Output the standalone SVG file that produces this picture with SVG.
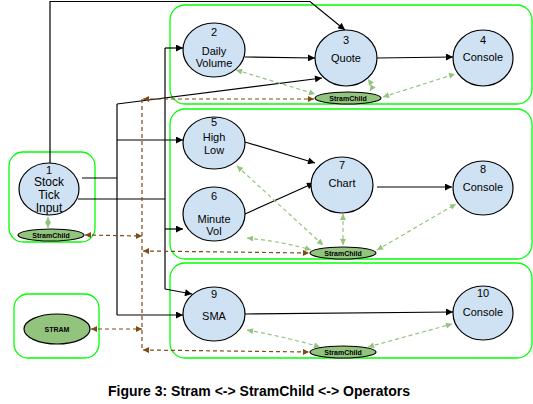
<svg xmlns="http://www.w3.org/2000/svg" width="533" height="404" viewBox="0 0 533 404">
<style>
.box{fill:none;stroke:#00ff00;stroke-width:1.3}
.node{fill:#cfe2f3;stroke:#000;stroke-width:1.2}
.sc{fill:#93c47d;stroke:#000;stroke-width:1.2}
.lbl{font-family:"Liberation Sans",Arial,sans-serif;font-size:11px;fill:#000;text-anchor:middle}
.sct{font-family:"Liberation Sans",Arial,sans-serif;font-size:7px;font-weight:bold;fill:#000;text-anchor:middle}
.e{fill:none;stroke:#000;stroke-width:1.2}
.ea{fill:none;stroke:#000;stroke-width:1.2;marker-end:url(#ah)}
.br{fill:none;stroke:#7f4a17;stroke-width:1.2;stroke-dasharray:4,3;marker-start:url(#bh);marker-end:url(#bh)}
.brl{fill:none;stroke:#7f4a17;stroke-width:1.2;stroke-dasharray:4,3}
.gr{fill:none;stroke:#93c47d;stroke-width:1.2;stroke-dasharray:4,3;marker-start:url(#gh);marker-end:url(#gh)}
</style>
<defs>
<marker id="ah" viewBox="0 0 10 10" refX="10" refY="5" markerWidth="8" markerHeight="7" markerUnits="userSpaceOnUse" orient="auto"><path d="M0,0 L10,5 L0,10 z" fill="#000"/></marker>
<marker id="bh" viewBox="0 0 10 10" refX="10" refY="5" markerWidth="7" markerHeight="6" markerUnits="userSpaceOnUse" orient="auto-start-reverse"><path d="M0,0 L10,5 L0,10 z" fill="#7f4a17"/></marker>
<marker id="gh" viewBox="0 0 10 10" refX="10" refY="5" markerWidth="7" markerHeight="6" markerUnits="userSpaceOnUse" orient="auto-start-reverse"><path d="M0,0 L10,5 L0,10 z" fill="#93c47d"/></marker>
</defs>
<rect width="533" height="404" fill="#fff"/>
<g id="groups">
<rect class="box" x="170" y="5" width="362" height="99" rx="15"/>
<rect class="box" x="170" y="109" width="362" height="150" rx="15"/>
<rect class="box" x="170" y="263" width="362" height="95" rx="15"/>
<rect class="box" x="9" y="152" width="86" height="90" rx="14"/>
<rect class="box" x="14" y="294" width="85" height="64" rx="14"/>
</g>
<g id="connectors">
<polyline class="ea" points="50,163 50,1.5 310,1.5 345,30"/>
<polyline class="e" points="82,178 117,178"/>
<polyline class="e" points="117,104 117,315"/>
<line class="ea" x1="117" y1="104" x2="322" y2="78"/>
<line class="ea" x1="117" y1="140" x2="183" y2="140"/>
<line class="ea" x1="117" y1="315" x2="183" y2="315"/>
<polyline class="e" points="78,199 165,199"/>
<polyline class="e" points="165,48 165,289"/>
<line class="ea" x1="165" y1="48" x2="183" y2="48"/>
<line class="ea" x1="165" y1="229" x2="183" y2="229"/>
<line class="ea" x1="165" y1="289" x2="192" y2="294"/>
<line class="ea" x1="245" y1="57" x2="315" y2="58"/>
<line class="ea" x1="377" y1="58" x2="453" y2="57"/>
<line class="ea" x1="245" y1="142" x2="315" y2="163"/>
<line class="ea" x1="245" y1="214" x2="314" y2="183"/>
<line class="ea" x1="377" y1="187" x2="452" y2="187"/>
<line class="ea" x1="245" y1="314" x2="453" y2="312"/>
<line class="brl" x1="142" y1="99" x2="142" y2="350"/>
<line class="br" x1="143" y1="99" x2="314" y2="99"/>
<line class="br" x1="85" y1="235" x2="142" y2="236"/>
<line class="br" x1="143" y1="251" x2="309" y2="253"/>
<line class="br" x1="91" y1="329" x2="142" y2="329"/>
<line class="br" x1="143" y1="350" x2="309" y2="352"/>
<line class="gr" x1="236" y1="70" x2="315" y2="94"/>
<path class="gr" d="M370,91 Q373,86 368,79"/>
<line class="gr" x1="383" y1="97" x2="455" y2="74"/>
<line class="gr" x1="237" y1="166" x2="323" y2="245"/>
<path class="gr" d="M247,238 Q285,242 311,250"/>
<line class="gr" x1="343" y1="214" x2="343" y2="245"/>
<line class="gr" x1="377" y1="250" x2="456" y2="204"/>
<path class="gr" d="M247,330 Q290,338 320,347"/>
<line class="gr" x1="368" y1="347" x2="452" y2="324"/>
<line class="gr" x1="48" y1="217" x2="48" y2="228"/>
</g>
<g id="n1"><ellipse class="node" cx="49" cy="189" rx="30" ry="26"/>
<text class="lbl" x="49" y="174">1</text><text class="lbl" font-size="12" x="49" y="186" style="font-size:12px">Stock</text><text class="lbl" x="49" y="199" style="font-size:12px">Tick</text><text class="lbl" x="49" y="212" style="font-size:12px">Input</text></g>
<g id="sc1"><ellipse class="sc" cx="51" cy="235" rx="33" ry="6"/><text class="sct" x="51" y="237.5">StramChild</text></g>
<g id="n2"><ellipse class="node" cx="214" cy="50" rx="31" ry="27"/>
<text class="lbl" x="214" y="36">2</text><text class="lbl" x="214" y="55">Daily</text><text class="lbl" x="214" y="67">Volume</text></g>
<g id="n3"><ellipse class="node" cx="346" cy="58" rx="31" ry="28"/>
<text class="lbl" x="346" y="44">3</text><text class="lbl" x="346" y="62">Quote</text></g>
<g id="n4"><ellipse class="node" cx="483" cy="58" rx="30" ry="28"/>
<text class="lbl" x="483" y="44">4</text><text class="lbl" x="483" y="61">Console</text></g>
<g id="sc2"><ellipse class="sc" cx="348" cy="98" rx="33" ry="6"/><text class="sct" x="348" y="100.5">StramChild</text></g>
<g id="n5"><ellipse class="node" cx="214" cy="143" rx="31" ry="26"/>
<text class="lbl" x="214" y="126">5</text><text class="lbl" x="214" y="141">High</text><text class="lbl" x="214" y="154">Low</text></g>
<g id="n6"><ellipse class="node" cx="214" cy="214" rx="31" ry="27"/>
<text class="lbl" x="214" y="200">6</text><text class="lbl" x="214" y="223">Minute</text><text class="lbl" x="214" y="235">Vol</text></g>
<g id="n7"><ellipse class="node" cx="342" cy="185" rx="31" ry="28"/>
<text class="lbl" x="342" y="169">7</text><text class="lbl" x="342" y="187">Chart</text></g>
<g id="n8"><ellipse class="node" cx="483" cy="188" rx="30" ry="27"/>
<text class="lbl" x="483" y="173">8</text><text class="lbl" x="483" y="191">Console</text></g>
<g id="sc3"><ellipse class="sc" cx="343" cy="253" rx="33" ry="6"/><text class="sct" x="343" y="255.5">StramChild</text></g>
<g id="n9"><ellipse class="node" cx="214" cy="314" rx="31" ry="27"/>
<text class="lbl" x="214" y="298">9</text><text class="lbl" x="214" y="320">SMA</text></g>
<g id="n10"><ellipse class="node" cx="483" cy="313" rx="30" ry="27"/>
<text class="lbl" x="483" y="297">10</text><text class="lbl" x="483" y="316">Console</text></g>
<g id="sc4"><ellipse class="sc" cx="343" cy="352" rx="33" ry="6"/><text class="sct" x="343" y="354.5">StramChild</text></g>
<g id="stram"><ellipse class="sc" cx="57" cy="329" rx="33" ry="15"/><text class="sct" x="57" y="331.5">STRAM</text></g>
<text x="259" y="396" style="font-family:'Liberation Sans',Arial,sans-serif;font-size:14px;font-weight:bold;text-anchor:middle">Figure 3: Stram &lt;-&gt; StramChild &lt;-&gt; Operators</text>
</svg>
